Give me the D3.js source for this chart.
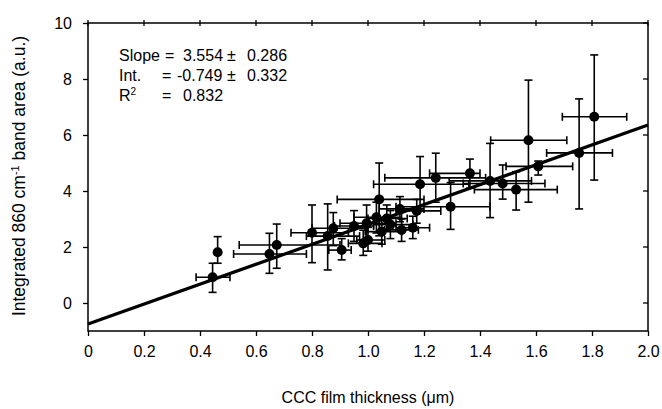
<!DOCTYPE html>
<html>
<head>
<meta charset="utf-8">
<script src="https://cdn.jsdelivr.net/npm/d3@7"></script>
<style>
  body { margin: 0; background: #fff; }
  svg { display: block; font-family: "Liberation Sans", Arial, sans-serif; }
</style>
</head>
<body>
<svg id="chart" width="662" height="409"></svg>
<script>
// film thickness (um) and band area (a.u.) with error limits
var xVals = [0.445, 0.463, 0.648, 0.674, 0.80, 0.856, 0.876, 0.906, 0.95, 0.983, 0.995, 1.00, 1.03, 1.04, 1.049, 1.067,
  1.08, 1.114, 1.12, 1.16, 1.174, 1.186, 1.242, 1.295, 1.364, 1.436, 1.481, 1.529, 1.573, 1.608, 1.754, 1.808];
var yVals = [0.92, 1.81, 1.75, 2.07, 2.51, 2.39, 2.67, 1.89, 2.75, 2.13, 2.85, 2.25, 3.06, 3.70, 2.55, 3.02,
  2.80, 3.36, 2.61, 2.69, 3.29, 4.24, 4.47, 3.44, 4.63, 4.36, 4.27, 4.05, 5.81, 4.88, 5.36, 6.65];
var xLow = [0.386, 0.463, 0.52, 0.54, 0.725, 0.78, 0.80, 0.86, 0.88, 0.93, 0.90, 0.96, 0.95, 0.89, 0.99, 1.00,
  1.02, 1.04, 1.06, 1.10, 1.10, 1.02, 1.06, 1.10, 1.22, 1.29, 1.34, 1.38, 1.438, 1.493, 1.638, 1.694];
var xHigh = [0.507, 0.463, 0.78, 0.90, 0.93, 0.97, 1.00, 0.94, 1.02, 1.05, 1.10, 1.06, 1.12, 1.20, 1.12, 1.14,
  1.16, 1.20, 1.18, 1.22, 1.26, 1.36, 1.42, 1.436, 1.40, 1.584, 1.632, 1.676, 1.71, 1.731, 1.873, 1.924];
var yLow = [0.38, 1.42, 1.06, 1.24, 1.44, 1.18, 2.05, 1.54, 2.2, 1.7, 2.3, 1.85, 2.5, 2.4, 2.1, 2.6,
  2.3, 2.9, 2.2, 2.3, 2.85, 3.3, 3.6, 2.63, 4.1, 3.05, 3.71, 3.32, 3.60, 4.57, 3.36, 4.39];
var yHigh = [1.42, 2.37, 2.49, 2.82, 3.5, 3.54, 3.23, 2.3, 3.3, 2.6, 3.5, 2.7, 3.6, 5.0, 3.0, 3.5,
  3.3, 3.8, 3.0, 3.1, 3.7, 5.23, 5.35, 4.3, 5.14, 5.70, 4.93, 4.69, 7.96, 5.07, 7.29, 8.86];

var slope = 3.554, intercept = -0.749;
var xTicks = [0, 0.2, 0.4, 0.6, 0.8, 1.0, 1.2, 1.4, 1.6, 1.8, 2.0];
var xTickLabels = ["0", "0.2", "0.4", "0.6", "0.8", "1.0", "1.2", "1.4", "1.6", "1.8", "2.0"];
var yTicks = [0, 2, 4, 6, 8, 10];

var pts = xVals.map(function(d, i) {
  return { x: d, y: yVals[i], x0: xLow[i], x1: xHigh[i], y0: yLow[i], y1: yHigh[i] };
});

var svg = d3.select("#chart");
var pLeft = 88, pRight = 648, pTop = 23, pBottom = 331;

var x = d3.scaleLinear().domain([0, 2]).range([pLeft, pRight]);
var y = d3.scaleLinear().domain([-1, 10]).range([pBottom, pTop]);

// axes
var xAxis = d3.axisBottom(x).tickValues(xTicks).tickSize(5).tickPadding(10)
  .tickFormat(function(d, i) { return xTickLabels[i]; });
var gx = svg.append("g").attr("transform", "translate(0," + pBottom + ")").call(xAxis);
var yAxis = d3.axisLeft(y).tickValues(yTicks).tickSize(5).tickPadding(11);
var gy = svg.append("g").attr("transform", "translate(" + pLeft + ",0)").call(yAxis);
[gx, gy].forEach(function(g) {
  g.select(".domain").remove();
  g.selectAll("line").attr("stroke", "#000").attr("stroke-width", 1.3);
  g.selectAll("text").attr("font-size", 16).attr("fill", "#000")
    .attr("font-family", "Liberation Sans, Arial, sans-serif");
});

// mirrored ticks top and right
svg.append("g").selectAll("line").data(xTicks).enter().append("line")
  .attr("x1", function(d) { return x(d); }).attr("x2", function(d) { return x(d); })
  .attr("y1", pTop - 3).attr("y2", pTop + 3)
  .attr("stroke", "#000").attr("stroke-width", 1.3);
svg.append("g").selectAll("line").data(yTicks).enter().append("line")
  .attr("x1", pRight - 5).attr("x2", pRight)
  .attr("y1", function(d) { return y(d); }).attr("y2", function(d) { return y(d); })
  .attr("stroke", "#000").attr("stroke-width", 1.3);

// frame
svg.append("rect").attr("x", pLeft).attr("y", pTop)
  .attr("width", pRight - pLeft).attr("height", pBottom - pTop)
  .attr("fill", "none").attr("stroke", "#000").attr("stroke-width", 1.5);

// error bars
var cap = 4;
var eb = svg.append("g").attr("stroke", "#000").attr("stroke-width", 1.6).attr("fill", "none");
pts.forEach(function(d) {
  if (d.x1 > d.x0) {
    eb.append("line").attr("x1", x(d.x0)).attr("x2", x(d.x1)).attr("y1", y(d.y)).attr("y2", y(d.y));
    eb.append("line").attr("x1", x(d.x0)).attr("x2", x(d.x0)).attr("y1", y(d.y) - cap).attr("y2", y(d.y) + cap);
    eb.append("line").attr("x1", x(d.x1)).attr("x2", x(d.x1)).attr("y1", y(d.y) - cap).attr("y2", y(d.y) + cap);
  }
  eb.append("line").attr("x1", x(d.x)).attr("x2", x(d.x)).attr("y1", y(d.y0)).attr("y2", y(d.y1));
  eb.append("line").attr("x1", x(d.x) - cap).attr("x2", x(d.x) + cap).attr("y1", y(d.y0)).attr("y2", y(d.y0));
  eb.append("line").attr("x1", x(d.x) - cap).attr("x2", x(d.x) + cap).attr("y1", y(d.y1)).attr("y2", y(d.y1));
});

// fit line
svg.append("line")
  .attr("x1", x(0)).attr("y1", y(intercept))
  .attr("x2", x(2)).attr("y2", y(slope * 2 + intercept))
  .attr("stroke", "#000").attr("stroke-width", 3.2);

// points
svg.append("g").selectAll("circle").data(pts).enter().append("circle")
  .attr("cx", function(d) { return x(d.x); })
  .attr("cy", function(d) { return y(d.y); })
  .attr("r", 5).attr("fill", "#000");

// fit annotation
var ann = svg.append("g").attr("font-size", 16).attr("fill", "#000");
var rows = [
  { base: 61, cells: [[119, "Slope"], [165, "="], [183, "3.554"], [227, "±"], [247, "0.286"]] },
  { base: 81, cells: [[119, "Int."], [162, "="], [177, "-0.749"], [227, "±"], [247, "0.332"]] },
  { base: 101, cells: [[162, "="], [183, "0.832"]] }
];
rows.forEach(function(r) {
  r.cells.forEach(function(c) {
    ann.append("text").attr("x", c[0]).attr("y", r.base).text(c[1]);
  });
});
var r2 = ann.append("text").attr("x", 119).attr("y", 101);
r2.append("tspan").text("R");
r2.append("tspan").attr("dy", -6).attr("font-size", 10).text("2");

// axis titles
svg.append("text").attr("x", 368).attr("y", 403).attr("text-anchor", "middle")
  .attr("font-size", 16).text("CCC film thickness (μm)");
var yt = svg.append("text").attr("transform", "translate(25,176) rotate(-90)")
  .attr("text-anchor", "middle").attr("font-size", 17.5);
yt.append("tspan").text("Integrated 860 cm");
yt.append("tspan").attr("dy", -6).attr("font-size", 11).text("-1");
yt.append("tspan").attr("dy", 6).text(" band area (a.u.)");
</script>
</body>
</html>
